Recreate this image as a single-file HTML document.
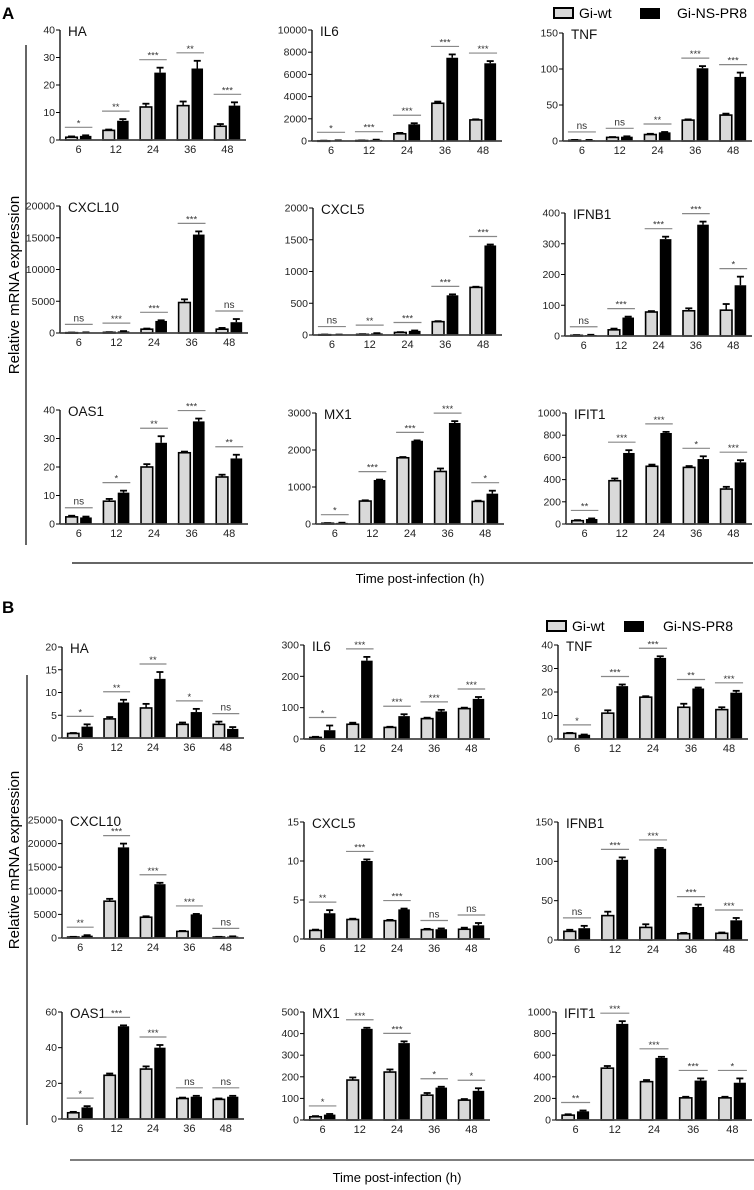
<!DOCTYPE html>
<html>
<head>
<meta charset="utf-8">
<style>
html,body{margin:0;padding:0;background:#fff;}
svg{display:block;font-family:"Liberation Sans",sans-serif;}
</style>
</head>
<body>
<svg id="fig" width="754" height="1190" viewBox="0 0 754 1190" xmlns="http://www.w3.org/2000/svg">
  <text x="2" y="19" font-size="17" font-weight="bold">A</text>
  <text x="2" y="613" font-size="17" font-weight="bold">B</text>
  <g>
    <rect x="554" y="8" width="19" height="10" fill="#d9d9d9" stroke="#000" stroke-width="2"/>
    <text x="579" y="18" font-size="14">Gi-wt</text>
    <rect x="640" y="8" width="20" height="11" fill="#000"/>
    <text x="677" y="18" font-size="14">Gi-NS-PR8</text>
  </g>
  <g>
    <rect x="547" y="621" width="19" height="10" fill="#d9d9d9" stroke="#000" stroke-width="2"/>
    <text x="572" y="631" font-size="14">Gi-wt</text>
    <rect x="624" y="621" width="20" height="11" fill="#000"/>
    <text x="663" y="631" font-size="14">Gi-NS-PR8</text>
  </g>
  <line x1="26" y1="45" x2="26" y2="545" stroke="#333" stroke-width="1.5"/>
  <text transform="translate(19,285) rotate(-90)" text-anchor="middle" font-size="15">Relative mRNA expression</text>
  <line x1="27" y1="675" x2="27" y2="1125" stroke="#333" stroke-width="1.5"/>
  <text transform="translate(19,860) rotate(-90)" text-anchor="middle" font-size="15">Relative mRNA expression</text>
  <line x1="72" y1="563" x2="753" y2="563" stroke="#333" stroke-width="1.5"/>
  <text x="420" y="583" text-anchor="middle" font-size="13">Time post-infection (h)</text>
  <line x1="70" y1="1160" x2="754" y2="1160" stroke="#555" stroke-width="1.5"/>
  <text x="397" y="1182" text-anchor="middle" font-size="13">Time post-infection (h)</text>
</svg>
<script>
const categories = ['6','12','24','36','48'];

// ---- Panel A ----
const aHA_wt = [1,3.5,12,12.5,5];           const aHA_wtErr = [0.3,0.3,1.2,1.5,0.8];
const aHA_ns = [1.5,7,24.5,26,12.5];        const aHA_nsErr = [0.2,0.6,1.8,2.8,1.2];
const aHA_sig = ['*','**','***','**','***']; const aHA_ticks = [0,10,20,30,40];

const aIL6_wt = [20,40,650,3400,1900];      const aIL6_wtErr = [10,10,80,150,50];
const aIL6_ns = [50,100,1500,7500,7000];    const aIL6_nsErr = [10,20,100,300,200];
const aIL6_sig = ['*','***','***','***','***']; const aIL6_ticks = [0,2000,4000,6000,8000,10000];

const aTNF_wt = [1,5,9,29,36];              const aTNF_wtErr = [0.5,0.5,1,1,2];
const aTNF_ns = [1,6,12,101,89];            const aTNF_nsErr = [0.5,0.5,0.5,3,6];
const aTNF_sig = ['ns','ns','**','***','***']; const aTNF_ticks = [0,50,100,150];

const aCXCL10_wt = [50,100,600,4800,600];   const aCXCL10_wtErr = [20,30,100,500,200];
const aCXCL10_ns = [80,250,1900,15500,1700]; const aCXCL10_nsErr = [20,50,100,500,500];
const aCXCL10_sig = ['ns','***','***','***','ns']; const aCXCL10_ticks = [0,5000,10000,15000,20000];

const aCXCL5_wt = [5,10,40,210,750];        const aCXCL5_wtErr = [2,3,5,8,10];
const aCXCL5_ns = [5,25,65,625,1410];       const aCXCL5_nsErr = [2,4,6,15,15];
const aCXCL5_sig = ['ns','**','***','***','***']; const aCXCL5_ticks = [0,500,1000,1500,2000];

const aIFNB1_wt = [2,20,78,82,84];          const aIFNB1_wtErr = [1,4,3,8,20];
const aIFNB1_ns = [3,60,315,362,165];       const aIFNB1_nsErr = [1,3,8,10,28];
const aIFNB1_sig = ['ns','***','***','***','*']; const aIFNB1_ticks = [0,100,200,300,400];

const aOAS1_wt = [2.5,8,20,25,16.5];        const aOAS1_wtErr = [0.4,0.8,1,0.4,0.8];
const aOAS1_ns = [2.3,11,28.5,36,23];       const aOAS1_nsErr = [0.3,0.7,2.3,1,1.3];
const aOAS1_sig = ['ns','*','**','***','**']; const aOAS1_ticks = [0,10,20,30,40];

const aMX1_wt = [20,620,1790,1420,610];     const aMX1_wtErr = [5,20,20,80,20];
const aMX1_ns = [30,1190,2250,2730,820];    const aMX1_nsErr = [5,10,10,50,80];
const aMX1_sig = ['*','***','***','***','*']; const aMX1_ticks = [0,1000,2000,3000];

const aIFIT1_wt = [30,390,520,510,315];     const aIFIT1_wtErr = [5,20,15,12,20];
const aIFIT1_ns = [45,640,820,585,555];     const aIFIT1_nsErr = [5,25,10,25,20];
const aIFIT1_sig = ['**','***','***','*','***']; const aIFIT1_ticks = [0,200,400,600,800,1000];

// ---- Panel B ----
const bHA_wt = [1,4.2,6.6,3,3];             const bHA_wtErr = [0.1,0.4,0.9,0.4,0.6];
const bHA_ns = [2.5,7.8,13,5.7,2];          const bHA_nsErr = [0.5,0.6,1.5,0.7,0.4];
const bHA_sig = ['*','**','**','*','ns'];   const bHA_ticks = [0,5,10,15,20];

const bIL6_wt = [5,47,37,65,97];            const bIL6_wtErr = [2,5,2,3,3];
const bIL6_ns = [28,250,73,88,128];         const bIL6_nsErr = [15,12,6,5,6];
const bIL6_sig = ['*','***','***','***','***']; const bIL6_ticks = [0,100,200,300];

const bTNF_wt = [2.4,11,17.8,13.5,12.5];    const bTNF_wtErr = [0.2,1.2,0.4,1.5,1];
const bTNF_ns = [1.8,22.5,34.5,21.5,19.7];  const bTNF_nsErr = [0.1,0.7,0.7,0.4,0.8];
const bTNF_sig = ['*','***','***','**','***']; const bTNF_ticks = [0,10,20,30,40];

const bCXCL10_wt = [200,7800,4400,1400,200]; const bCXCL10_wtErr = [50,500,200,100,50];
const bCXCL10_ns = [500,19200,11400,5000,300]; const bCXCL10_nsErr = [100,800,300,100,50];
const bCXCL10_sig = ['**','***','***','***','ns']; const bCXCL10_ticks = [0,5000,10000,15000,20000,25000];

const bCXCL5_wt = [1.1,2.5,2.35,1.2,1.25];  const bCXCL5_wtErr = [0.1,0.1,0.1,0.1,0.2];
const bCXCL5_ns = [3.3,10,3.8,1.25,1.75];   const bCXCL5_nsErr = [0.4,0.2,0.1,0.1,0.3];
const bCXCL5_sig = ['**','***','***','ns','ns']; const bCXCL5_ticks = [0,5,10,15];

const bIFNB1_wt = [11,31,16,8,8.5];         const bIFNB1_wtErr = [2,5,4,1,1];
const bIFNB1_ns = [15,102,116,42,25];       const bIFNB1_nsErr = [3,3,1,3,3];
const bIFNB1_sig = ['ns','***','***','***','***']; const bIFNB1_ticks = [0,50,100,150];

const bOAS1_wt = [3.5,24.5,28,11.5,11];     const bOAS1_wtErr = [0.5,1,1.5,0.5,0.5];
const bOAS1_ns = [6.5,52,40,12.5,12.5];     const bOAS1_nsErr = [0.7,0.5,1.5,0.5,0.5];
const bOAS1_sig = ['*','***','***','ns','ns']; const bOAS1_ticks = [0,20,40,60];

const bMX1_wt = [15,185,222,115,92];        const bMX1_wtErr = [3,12,12,10,5];
const bMX1_ns = [25,422,356,150,135];       const bMX1_nsErr = [3,5,8,4,12];
const bMX1_sig = ['*','***','***','*','*']; const bMX1_ticks = [0,100,200,300,400,500];

const bIFIT1_wt = [45,480,355,205,205];     const bIFIT1_wtErr = [8,20,15,10,10];
const bIFIT1_ns = [80,890,575,365,345];     const bIFIT1_nsErr = [8,25,10,20,40];
const bIFIT1_sig = ['**','***','***','***','*']; const bIFIT1_ticks = [0,200,400,600,800,1000];

const NS = 'http://www.w3.org/2000/svg';
const fig = document.getElementById('fig');
function mk(tag, attrs, parent){
  const e = document.createElementNS(NS, tag);
  for (const k in attrs) e.setAttribute(k, attrs[k]);
  parent.appendChild(e);
  return e;
}
function fmt(v){ return String(v); }

function drawChart(id, title, box, wt, wtErr, ns, nsErr, sig, ticks){
  const g = mk('g', {}, fig);
  
  
  const ymax = ticks[ticks.length-1];
  const y = v => box.yb - (v / ymax) * (box.yb - box.yt);
  const pitch = (box.x1 - box.x0) / categories.length;
  const cx = i => box.x0 + (i + 0.5) * pitch;
  const bw = pitch * 0.31, gap = pitch * 0.035;

  const ya = mk('line', {x1:box.x0, y1:box.yt, x2:box.x0, y2:box.yb, stroke:'#000', 'stroke-width':1.3}, g);
  
  
  ticks.forEach(t => {
    const tl = mk('line', {x1:box.x0-4, y1:y(t), x2:box.x0, y2:y(t), stroke:'#000', 'stroke-width':1}, g);
    
    
    const tx = mk('text', {x:box.x0-5, y:y(t)+3.5, 'text-anchor':'end', 'font-size':10.5, fill:'#222'}, g);
    tx.textContent = fmt(t);
    
    
  });
  const tt = mk('text', {x:box.x0+8, y:box.yt+6, 'font-size':13.5, fill:'#111'}, g);
  tt.textContent = title;
  
  

  categories.forEach((c, i) => {
    const c0 = cx(i);
    const xl = c0 - gap - bw, xr = c0 + gap;
    [[xl, wt[i], wtErr[i]], [xr, ns[i], nsErr[i]]].forEach(([bx, v, e]) => {
      const eb = mk('line', {x1:bx+bw/2, y1:y(v), x2:bx+bw/2, y2:y(v+e), stroke:'#000', 'stroke-width':1.5}, g);
      
      
      const cap = mk('line', {x1:bx+bw/2-3.5, y1:y(v+e), x2:bx+bw/2+3.5, y2:y(v+e), stroke:'#000', 'stroke-width':1.8}, g);
      
      
    });
    const b1 = mk('rect', {x:xl, y:y(wt[i]), width:bw, height:Math.max(0.5, box.yb - y(wt[i])), fill:'#d9d9d9', stroke:'#000', 'stroke-width':1.6}, g);
    
    
    const b2 = mk('rect', {x:xr, y:y(ns[i]), width:bw, height:Math.max(0.5, box.yb - y(ns[i])), fill:'#000'}, g);
    
    
    const top = Math.min(y(wt[i]+wtErr[i]), y(ns[i]+nsErr[i])) - 8;
    const sl = mk('line', {x1:c0-pitch*0.37, y1:top, x2:c0+pitch*0.37, y2:top, stroke:'#888', 'stroke-width':1.2}, g);
    
    
    const st = mk('text', {x:c0, y: sig[i]==='ns' ? top-3 : top-1, 'text-anchor':'middle', 'font-size': sig[i]==='ns' ? 10 : 9.5, fill:'#333'}, g);
    st.textContent = sig[i];
    
    
    const xt = mk('text', {x:c0, y:box.yb+13, 'text-anchor':'middle', 'font-size':11, fill:'#222'}, g);
    xt.textContent = c;
    
    
  });
  const xa = mk('line', {x1:box.x0, y1:box.yb, x2:box.x1, y2:box.yb, stroke:'#444', 'stroke-width':1.8}, g);
  
  
}

drawChart('chart-a-ha','HA',{x0:60,x1:246,yt:30,yb:140},aHA_wt,aHA_wtErr,aHA_ns,aHA_nsErr,aHA_sig,aHA_ticks);
drawChart('chart-a-il6','IL6',{x0:312,x1:502,yt:30,yb:141},aIL6_wt,aIL6_wtErr,aIL6_ns,aIL6_nsErr,aIL6_sig,aIL6_ticks);
drawChart('chart-a-tnf','TNF',{x0:563,x1:752,yt:33,yb:141},aTNF_wt,aTNF_wtErr,aTNF_ns,aTNF_nsErr,aTNF_sig,aTNF_ticks);
drawChart('chart-a-cxcl10','CXCL10',{x0:60,x1:248,yt:206,yb:333},aCXCL10_wt,aCXCL10_wtErr,aCXCL10_ns,aCXCL10_nsErr,aCXCL10_sig,aCXCL10_ticks);
drawChart('chart-a-cxcl5','CXCL5',{x0:313,x1:502,yt:208,yb:335},aCXCL5_wt,aCXCL5_wtErr,aCXCL5_ns,aCXCL5_nsErr,aCXCL5_sig,aCXCL5_ticks);
drawChart('chart-a-ifnb1','IFNB1',{x0:565,x1:752,yt:213,yb:336},aIFNB1_wt,aIFNB1_wtErr,aIFNB1_ns,aIFNB1_nsErr,aIFNB1_sig,aIFNB1_ticks);
drawChart('chart-a-oas1','OAS1',{x0:60,x1:248,yt:410,yb:524},aOAS1_wt,aOAS1_wtErr,aOAS1_ns,aOAS1_nsErr,aOAS1_sig,aOAS1_ticks);
drawChart('chart-a-mx1','MX1',{x0:316,x1:504,yt:413,yb:524},aMX1_wt,aMX1_wtErr,aMX1_ns,aMX1_nsErr,aMX1_sig,aMX1_ticks);
drawChart('chart-a-ifit1','IFIT1',{x0:566,x1:752,yt:413,yb:524},aIFIT1_wt,aIFIT1_wtErr,aIFIT1_ns,aIFIT1_nsErr,aIFIT1_sig,aIFIT1_ticks);

drawChart('chart-b-ha','HA',{x0:62,x1:244,yt:647,yb:738},bHA_wt,bHA_wtErr,bHA_ns,bHA_nsErr,bHA_sig,bHA_ticks);
drawChart('chart-b-il6','IL6',{x0:304,x1:490,yt:645,yb:739},bIL6_wt,bIL6_wtErr,bIL6_ns,bIL6_nsErr,bIL6_sig,bIL6_ticks);
drawChart('chart-b-tnf','TNF',{x0:558,x1:748,yt:645,yb:739},bTNF_wt,bTNF_wtErr,bTNF_ns,bTNF_nsErr,bTNF_sig,bTNF_ticks);
drawChart('chart-b-cxcl10','CXCL10',{x0:62,x1:244,yt:820,yb:938},bCXCL10_wt,bCXCL10_wtErr,bCXCL10_ns,bCXCL10_nsErr,bCXCL10_sig,bCXCL10_ticks);
drawChart('chart-b-cxcl5','CXCL5',{x0:304,x1:490,yt:822,yb:939},bCXCL5_wt,bCXCL5_wtErr,bCXCL5_ns,bCXCL5_nsErr,bCXCL5_sig,bCXCL5_ticks);
drawChart('chart-b-ifnb1','IFNB1',{x0:558,x1:748,yt:822,yb:940},bIFNB1_wt,bIFNB1_wtErr,bIFNB1_ns,bIFNB1_nsErr,bIFNB1_sig,bIFNB1_ticks);
drawChart('chart-b-oas1','OAS1',{x0:62,x1:244,yt:1012,yb:1119},bOAS1_wt,bOAS1_wtErr,bOAS1_ns,bOAS1_nsErr,bOAS1_sig,bOAS1_ticks);
drawChart('chart-b-mx1','MX1',{x0:304,x1:490,yt:1012,yb:1120},bMX1_wt,bMX1_wtErr,bMX1_ns,bMX1_nsErr,bMX1_sig,bMX1_ticks);
drawChart('chart-b-ifit1','IFIT1',{x0:556,x1:752,yt:1012,yb:1120},bIFIT1_wt,bIFIT1_wtErr,bIFIT1_ns,bIFIT1_nsErr,bIFIT1_sig,bIFIT1_ticks);
</script>
</body>
</html>
